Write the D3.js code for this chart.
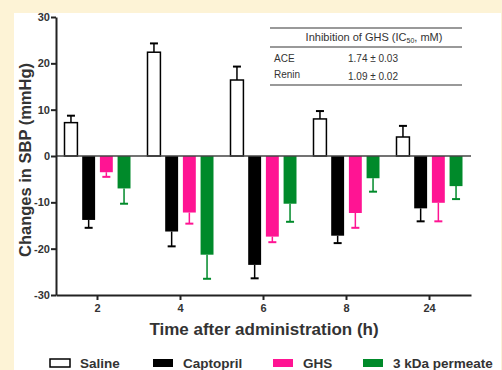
<!DOCTYPE html>
<html>
<head>
<meta charset="utf-8">
<script src="https://cdn.jsdelivr.net/npm/d3@7"></script>
<style>
  body { margin: 0; background: #fdf3d6; }
  svg { display: block; font-family: Arial, "Liberation Sans", sans-serif; }
</style>
</head>
<body>
<svg id="chart" width="502" height="370"></svg>
<script>
// data
const times = ['2', '4', '6', '8', '24'];
const series = ['Saline', 'Captopril', 'GHS', '3 kDa permeate'];
const colors = ['#ffffff', '#000000', '#ff1493', '#008a2a'];
const means = [
  [7.2, 22.4, 16.4, 8.0, 4.1],        // Saline
  [-13.8, -16.3, -23.5, -17.2, -11.3], // Captopril
  [-3.5, -12.2, -17.4, -12.3, -10.1],  // GHS
  [-7.0, -21.3, -10.3, -4.8, -6.5]     // 3 kDa permeate
];
const errs = [
  [1.5, 1.9, 2.9, 1.7, 2.4],
  [1.7, 3.2, 2.9, 1.6, 2.8],
  [1.0, 2.4, 1.2, 3.2, 4.0],
  [3.3, 5.2, 3.9, 2.9, 2.8]
];
const yTicks = [30, 20, 10, 0, -10, -20, -30];
const tableRows = [['ACE', '1.74 \u00b1 0.03'], ['Renin', '1.09 \u00b1 0.02']];

const svg = d3.select('#chart');
const margin = {top: 17, left: 56, right: 31, bottom: 75};
const W = 502, H = 370;
const axisColor = '#222';
const labelColor = '#333';

// white panel
svg.append('rect').attr('x', 14).attr('y', 13).attr('width', W - 15).attr('height', H - 13).attr('fill', '#fff');

const x0 = d3.scaleBand().domain(times).range([margin.left, W - margin.right]);
const x1 = d3.scaleBand().domain(series).range([0, 66]).paddingInner(0.27);
const y = d3.scaleLinear().domain([-30, 30]).range([H - margin.bottom, margin.top]);

const g = svg.append('g');

// bars and error bars
series.forEach((s, si) => {
  times.forEach((t, ti) => {
    const v = means[si][ti], e = errs[si][ti];
    const bx = x0(t) + (x0.bandwidth() - 66) / 2 + x1(s);
    const bw = x1.bandwidth();
    const cx = bx + bw / 2;
    const tip = v + (v >= 0 ? e : -e);
    const ec = si === 0 ? '#000' : colors[si];
    g.append('line').attr('x1', cx).attr('x2', cx).attr('y1', y(v)).attr('y2', y(tip))
      .attr('stroke', ec).attr('stroke-width', 1.5);
    g.append('line').attr('x1', cx - 4).attr('x2', cx + 4).attr('y1', y(tip)).attr('y2', y(tip))
      .attr('stroke', ec).attr('stroke-width', 2);
    g.append('rect')
      .attr('x', bx).attr('width', bw)
      .attr('y', y(Math.max(0, v))).attr('height', Math.abs(y(v) - y(0)))
      .attr('fill', colors[si])
      .attr('stroke', si === 0 ? '#000' : 'none').attr('stroke-width', 1.5);
  });
});

// zero line
g.append('line').attr('x1', margin.left).attr('x2', W - margin.right)
  .attr('y1', y(0)).attr('y2', y(0)).attr('stroke', '#444').attr('stroke-width', 1.5);

// axes
const yAxis = svg.append('g').attr('transform', `translate(${margin.left},0)`)
  .call(d3.axisLeft(y).tickValues(yTicks).tickFormat(d => String(d)).tickSize(5).tickSizeOuter(0));
const xAxis = svg.append('g').attr('transform', `translate(0,${H - margin.bottom})`)
  .call(d3.axisBottom(x0).tickSize(5).tickSizeOuter(0));
[yAxis, xAxis].forEach(a => {
  a.select('.domain').attr('stroke', axisColor).attr('stroke-width', 2);
  a.selectAll('.tick line').attr('stroke', axisColor).attr('stroke-width', 2);
  a.selectAll('.tick text').attr('fill', labelColor).attr('font-size', 11).attr('font-weight', 'bold');
});
yAxis.selectAll('.tick text').attr('x', -6);
xAxis.selectAll('.tick text').attr('y', 9);

// axis titles
svg.append('text').attr('transform', `translate(31,160) rotate(-90)`)
  .attr('text-anchor', 'middle').attr('font-size', 16.5).attr('font-weight', 'bold').attr('fill', labelColor)
  .text('Changes in SBP (mmHg)');
svg.append('text').attr('x', 264).attr('y', 335)
  .attr('text-anchor', 'middle').attr('font-size', 17).attr('font-weight', 'bold').attr('fill', labelColor)
  .text('Time after administration (h)');

// inset table
const tb = svg.append('g').attr('font-size', 10).attr('fill', '#333');
[28, 47, 85].forEach(ly => {
  tb.append('line').attr('x1', 270).attr('x2', 462).attr('y1', ly).attr('y2', ly)
    .attr('stroke', '#777').attr('stroke-width', 1.3);
});
const hdr = tb.append('text').attr('x', 374).attr('y', 41).attr('text-anchor', 'middle')
  .attr('font-size', 11).attr('fill', '#333');
hdr.append('tspan').text('Inhibition of GHS (IC');
hdr.append('tspan').attr('font-size', 7).attr('dy', 2).text('50');
hdr.append('tspan').attr('dy', -2).text(', mM)');
tableRows.forEach((r, i) => {
  tb.append('text').attr('x', 274).attr('y', 62 + i * 16).attr('fill', '#333').text(r[0]);
  tb.append('text').attr('x', 373).attr('y', 62 + i * 16 + i * 2).attr('text-anchor', 'middle').attr('fill', '#333').text(r[1]);
});

// legend
const legX = [50, 153, 273, 363];
const lg = svg.append('g');
series.forEach((s, i) => {
  lg.append('rect').attr('x', legX[i]).attr('y', 359).attr('width', 20).attr('height', 8)
    .attr('fill', colors[i]).attr('stroke', i === 0 ? '#000' : 'none').attr('stroke-width', 1.5);
  lg.append('text').attr('x', legX[i] + 30).attr('y', 368).attr('font-size', 13.5)
    .attr('font-weight', 'bold').attr('fill', labelColor).text(s);
});
</script>
</body>
</html>
